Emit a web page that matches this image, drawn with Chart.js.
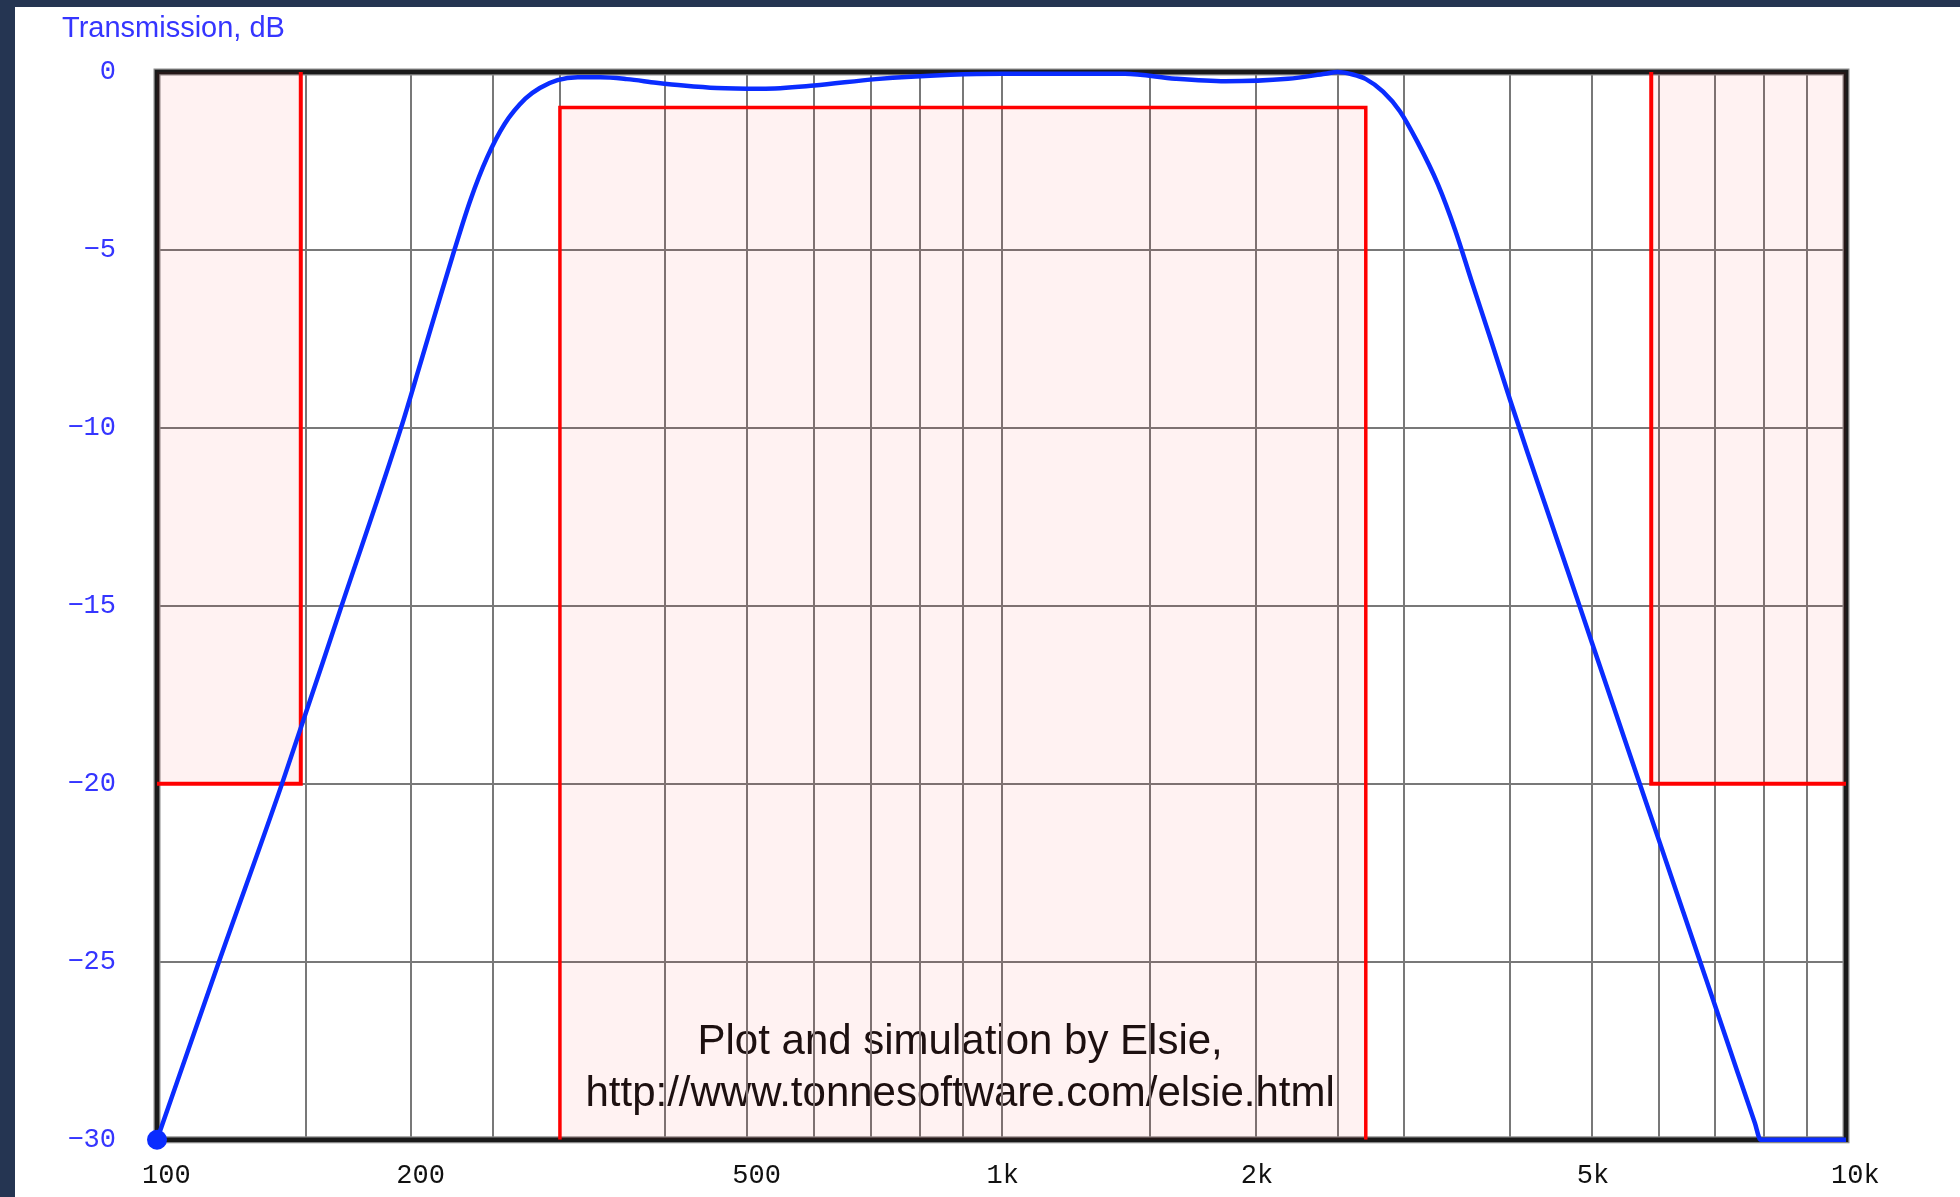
<!DOCTYPE html>
<html>
<head>
<meta charset="utf-8">
<script src="https://cdn.jsdelivr.net/npm/chart.js@4.4.1/dist/chart.umd.min.js"></script>
<style>
  html, body { margin: 0; padding: 0; width: 1960px; height: 1197px; overflow: hidden; background: #253552; }
  #panel { position: absolute; left: 15px; top: 7px; width: 1945px; height: 1190px; background: #ffffff; }
  canvas { display: block; }
</style>
</head>
<body>
<div id="panel"><canvas id="chart" width="1945" height="1190"></canvas></div>
<script>
// Simulated transmission of the band-pass filter: frequency (Hz) and level (dB)
const freqHz = [100, 118.4, 140.6, 165.4, 194.5, 205, 215, 225, 235, 246, 258, 273, 284, 298, 315, 335, 360, 390, 420, 460, 520, 600, 710, 870, 1000, 1400, 1607, 1841, 2183, 2417, 2500, 2606, 2701, 2830, 2963, 3106, 3286, 3446, 3600, 3800, 4000, 4200, 4400, 4600, 4836, 5000, 5300, 5667, 6000, 6400, 6733, 7000, 7440, 7800, 7925, 10000];
const gainDb = [-30, -25, -20, -15, -10, -8.2, -6.55, -5, -3.6, -2.4, -1.46, -0.75, -0.45, -0.23, -0.15, -0.15, -0.2, -0.3, -0.38, -0.45, -0.47, -0.38, -0.2, -0.08, -0.05, -0.05, -0.19, -0.26, -0.19, -0.05, 0, -0.07, -0.2, -0.55, -1.1, -1.95, -3.15, -4.45, -5.85, -7.55, -9.2, -10.72, -12.13, -13.48, -15, -16.02, -17.79, -19.83, -21.56, -23.52, -25.06, -26.24, -28.1, -29.53, -30, -30];

// Lower stopband limit: no more than -20 dB below 148 Hz
const lowStopHz = [100, 148, 148];
const lowStopDb = [-20, -20, 0];
// Passband limit: at least -1 dB from 300 Hz to 2.7 kHz
const passHz = [300, 300, 2700, 2700];
const passDb = [-30, -1, -1, -30];
// Upper stopband limit: no more than -20 dB above 5.88 kHz
const highStopHz = [5880, 5880, 10000];
const highStopDb = [0, -20, -20];

// Axis grid and labels
const gridHz = [100, 150, 200, 250, 300, 400, 500, 600, 700, 800, 900, 1000, 1500, 2000, 2500, 3000, 4000, 5000, 6000, 7000, 8000, 9000, 10000];
const labelHz = [100, 200, 500, 1000, 2000, 5000, 10000];
const labelText = ['100', '200', '500', '1k', '2k', '5k', '10k'];
const levelTicks = [0, -5, -10, -15, -20, -25, -30];
const titleText = 'Transmission, dB';
const creditLines = ['Plot and simulation by Elsie,', 'http://www.tonnesoftware.com/elsie.html'];

const toPoints = (xs, ys) => xs.map((x, i) => ({ x: x, y: ys[i] }));

const RED = '#ff0000';
const PINK = 'rgba(255, 0, 0, 0.05)';

// Thick frame round the plotting area
const framePlugin = {
  id: 'plotFrame',
  beforeDatasetsDraw(chart) {
    const { ctx, chartArea: a } = chart;
    ctx.save();
    ctx.strokeStyle = '#8c8c8c';
    ctx.lineWidth = 7;
    ctx.strokeRect(a.left, a.top, a.width, a.height);
    ctx.strokeStyle = '#1a1a1a';
    ctx.lineWidth = 4.5;
    ctx.strokeRect(a.left, a.top, a.width, a.height);
    ctx.restore();
  }
};

// Credit line printed inside the plot, underneath the grid
const creditPlugin = {
  id: 'credit',
  beforeDraw(chart) {
    const { ctx, chartArea: a } = chart;
    if (!a) return;
    ctx.save();
    ctx.fillStyle = '#111111';
    ctx.font = '42px "Liberation Sans", Arial, sans-serif';
    ctx.textAlign = 'center';
    ctx.textBaseline = 'alphabetic';
    const cx = a.left + a.width * 0.4755;
    ctx.fillText(creditLines[0], cx, a.top + 982);
    ctx.fillText(creditLines[1], cx, a.top + 1034);
    ctx.restore();
  }
};

new Chart(document.getElementById('chart'), {
  type: 'line',
  data: {
    datasets: [
      {
        label: 'Transmission',
        data: toPoints(freqHz, gainDb),
        borderColor: '#0a2cff',
        backgroundColor: '#0a2cff',
        borderWidth: 4.5,
        cubicInterpolationMode: 'monotone',
        pointRadius: (c) => (c.dataIndex === 0 ? 10 : 0),
        pointBorderWidth: 0,
        pointHoverRadius: 0,
        fill: false,
        clip: false,
        order: 0
      },
      {
        label: 'Lower stopband',
        data: toPoints(lowStopHz, lowStopDb),
        borderColor: RED,
        borderWidth: 4,
        backgroundColor: PINK,
        fill: 'end',
        pointRadius: 0,
        tension: 0,
        order: 1
      },
      {
        label: 'Passband',
        data: toPoints(passHz, passDb),
        borderColor: RED,
        borderWidth: 3.5,
        backgroundColor: PINK,
        fill: 'start',
        pointRadius: 0,
        tension: 0,
        order: 1
      },
      {
        label: 'Upper stopband',
        data: toPoints(highStopHz, highStopDb),
        borderColor: RED,
        borderWidth: 4,
        backgroundColor: PINK,
        fill: 'end',
        pointRadius: 0,
        tension: 0,
        order: 1
      }
    ]
  },
  options: {
    responsive: false,
    animation: false,
    events: [],
    layout: { padding: { left: 47, right: 114, top: 0, bottom: 0 } },
    plugins: {
      legend: { display: false },
      tooltip: { enabled: false },
      title: {
        display: true,
        text: titleText,
        align: 'start',
        color: '#3535ff',
        font: { family: '"Liberation Sans", Arial, sans-serif', size: 29, weight: 'normal', lineHeight: 1.2 },
        padding: { top: 5, bottom: 25.2 }
      }
    },
    scales: {
      x: {
        type: 'logarithmic',
        min: 100,
        max: 10000,
        afterBuildTicks: (s) => { s.ticks = gridHz.map((v) => ({ value: v })); },
        afterFit: (s) => { s.height = 52; },
        border: { display: false },
        grid: { color: '#787878', lineWidth: 2, drawTicks: false },
        ticks: {
          autoSkip: false,
          maxRotation: 0,
          minRotation: 0,
          align: 'start',
          labelOffset: -15,
          padding: 20,
          color: '#111111',
          font: { family: '"Liberation Mono", "DejaVu Sans Mono", monospace', size: 27 },
          callback: (v) => { const i = labelHz.indexOf(v); return i >= 0 ? labelText[i] : ''; }
        }
      },
      y: {
        type: 'linear',
        min: -30,
        max: 0,
        afterBuildTicks: (s) => { s.ticks = levelTicks.map((v) => ({ value: v })); },
        afterFit: (s) => { s.width = 95; },
        border: { display: false },
        grid: { color: '#787878', lineWidth: 2, drawTicks: false },
        ticks: {
          padding: 41,
          color: '#3535ff',
          font: { family: '"Liberation Mono", "DejaVu Sans Mono", monospace', size: 27 },
          callback: (v) => (v === 0 ? '0' : '\u2212' + Math.abs(v))
        }
      }
    }
  },
  plugins: [creditPlugin, framePlugin]
});
</script>
</body>
</html>
